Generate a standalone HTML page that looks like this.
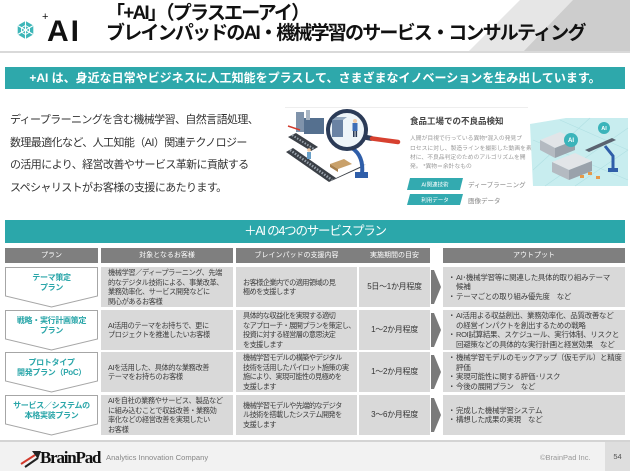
<!DOCTYPE html>
<html><head><meta charset="utf-8">
<style>
*{margin:0;padding:0;box-sizing:border-box}
body{width:630px;height:471px;position:relative;overflow:hidden;background:#fff;font-family:"Liberation Sans","Noto Sans CJK JP",sans-serif;color:#333}
.a{position:absolute}
.t{position:absolute;left:106px;top:4px;font-size:19px;line-height:20px;font-weight:bold;letter-spacing:-1.8px;color:#111;white-space:nowrap}
.bn{position:absolute;left:5px;top:67px;width:620px;height:22px;line-height:22px;text-align:center;color:#fff;font-weight:bold;font-size:12px;white-space:nowrap}
.pg{position:absolute;left:10px;top:109px;font-size:11px;line-height:22.7px;letter-spacing:-0.6px;color:#333;white-space:nowrap}
.bn2{position:absolute;left:5px;top:220px;width:620px;height:23px;line-height:23px;text-align:center;color:#fff;font-size:12.5px;letter-spacing:-1.2px;white-space:nowrap}
.h{position:absolute;top:248px;height:15px;line-height:15px;text-align:center;color:#fff;font-size:7px;white-space:nowrap}
.c{position:absolute;display:flex;flex-direction:column;justify-content:center;font-size:7.2px;line-height:9.5px;letter-spacing:-0.4px;color:#3c3c3c;white-space:nowrap}
.c2{left:101px;width:132px;padding-left:7px}
.c3{left:236px;width:121px;padding-left:7px;letter-spacing:-0.6px}
.c4{left:359px;width:71px;align-items:center;font-size:8px;letter-spacing:-0.3px;color:#333}
.c5{left:443px;width:182px;padding-left:5px;font-size:7.5px;letter-spacing:-0.3px}
.bu{display:inline-block;width:8px;letter-spacing:0}
.p{position:absolute;left:5px;width:93px;text-align:center;color:#2aa6a9;font-weight:bold;font-size:8px;line-height:9.5px;letter-spacing:-0.3px;white-space:nowrap}
</style></head><body>

<svg class="a" style="left:0;top:0" width="630" height="471" viewBox="0 0 630 471">
<!-- header diagonals -->
<polygon points="520,0 630,0 630,52 468,52" fill="#e6e6e6"/>
<polygon points="573,0 630,0 630,52 523,52" fill="#cdcdcd"/>
<rect x="0" y="51" width="630" height="2" fill="#d9d9d9"/>
<!-- logo icon -->
<g transform="translate(25.5,30)">
<polygon points="0,-9 7.8,-4.5 7.8,4.5 0,9 -7.8,4.5 -7.8,-4.5" fill="#3db6b8"/>
<g stroke="#fff" stroke-width="1.1">
<line x1="0" y1="-9" x2="0" y2="9"/>
<line x1="7.8" y1="-4.5" x2="-7.8" y2="4.5"/>
<line x1="7.8" y1="4.5" x2="-7.8" y2="-4.5"/>
</g>
<polygon points="0,-4.5 3.9,-2.25 3.9,2.25 0,4.5 -3.9,2.25 -3.9,-2.25" fill="none" stroke="#fff" stroke-width="1"/>
</g>
<!-- banners -->
<rect x="5" y="67" width="620" height="22" fill="#2ea8ab"/>
<rect x="5" y="220" width="620" height="23" fill="#2ba7aa"/>

<!-- illustration top line -->
<rect x="285" y="107" width="243" height="1" fill="#eeeeee"/>
<!-- left illustration -->
<polygon points="286,152 293,148 336,178 329,182" fill="#3b4047"/>
<line x1="290" y1="150" x2="332" y2="180" stroke="#9aa3ad" stroke-width="2.5" stroke-dasharray="1.5,1.5"/>
<polygon points="329,182 336,178 366,164 360,168" fill="#3b4047"/>
<polygon points="288,137 296,133 318,147 311,151" fill="#3b4047"/>
<line x1="292" y1="135" x2="314" y2="149" stroke="#9aa3ad" stroke-width="2" stroke-dasharray="1.5,1.5"/>
<rect x="296" y="112" width="8" height="20" fill="#7f93ab"/>
<rect x="304" y="118" width="20" height="16" fill="#55708f"/>
<rect x="306" y="110" width="4" height="10" fill="#a9b6c4"/>
<line x1="288" y1="126" x2="300" y2="130" stroke="#d23a2c" stroke-width="1.5"/>
<polygon points="330,164 344,159 352,164 338,169" fill="#c9a16b"/>
<polygon points="330,164 338,169 338,172 330,167" fill="#a77f4c"/>
<circle cx="309" cy="150" r="1.8" fill="#f1c9a3"/>
<rect x="307" y="152" width="4" height="7" fill="#6aa0c8"/>
<path d="M352,148 Q364,156 362,174" fill="none" stroke="#2f5ea9" stroke-width="4"/>
<rect x="355" y="172" width="13" height="6" fill="#2f5ea9"/>
<line x1="364" y1="137" x2="372" y2="138.5" stroke="#2b3b57" stroke-width="5"/>
<line x1="372" y1="138.5" x2="398" y2="142" stroke="#d7402f" stroke-width="4.5" stroke-linecap="round"/>
<circle cx="347" cy="130" r="19" fill="#eef5f9" stroke="#2b3b57" stroke-width="4"/>
<rect x="332" y="120" width="11" height="17" fill="#6a83a4"/>
<polygon points="332,120 343,120 347,117 336,117" fill="#95a9c0"/>
<circle cx="355" cy="121" r="2" fill="#f1c9a3"/>
<rect x="352.5" y="123" width="5" height="8" fill="#3e6eb6"/>
<rect x="353" y="131" width="1.6" height="6" fill="#2b3b57"/>
<rect x="355.5" y="131" width="1.6" height="6" fill="#2b3b57"/>

<!-- middle texts -->
<text x="410" y="124" font-size="8.5" font-weight="bold" fill="#444" font-family="Liberation Sans, Noto Sans CJK JP, sans-serif">食品工場での不良品検知</text>
<g font-size="5.8" fill="#9a9a9a" font-family="Liberation Sans, Noto Sans CJK JP, sans-serif">
<text x="410" y="140">人間が目視で行っている異物*混入の発見プ</text>
<text x="410" y="150">ロセスに対し、製造ラインを撮影した動画を素</text>
<text x="410" y="159">材に、不良品判定のためのアルゴリズムを開</text>
<text x="410" y="168">発。 *異物＝余計なもの</text>
</g>
<polygon points="410,178 463,178 460,190 407,190" fill="#33aab0"/>
<polygon points="410,194 463,194 460,205 407,205" fill="#33aab0"/>
<g font-family="Liberation Sans, Noto Sans CJK JP, sans-serif">
<text x="435" y="186.5" font-size="5.5" fill="#fff" text-anchor="middle">AI関連技術</text>
<text x="435" y="202" font-size="5.5" fill="#fff" text-anchor="middle">利用データ</text>
<text x="468" y="187" font-size="6.5" fill="#888">ディープラーニング</text>
<text x="468" y="203" font-size="6.5" fill="#888">画像データ</text>
</g>

<!-- right illustration -->
<polygon points="530,124 566,118 628,118 628,186 533,186" fill="#c8edef"/>
<g stroke="#b0e0e3" stroke-width="0.6">
<line x1="533" y1="170" x2="590" y2="118"/>
<line x1="545" y1="186" x2="628" y2="128"/>
<line x1="575" y1="186" x2="628" y2="150"/>
<line x1="533" y1="140" x2="628" y2="180"/>
<line x1="560" y1="120" x2="628" y2="150"/>
</g>
<polygon points="540,140 560,132 575,140 555,148" fill="#e2e5e8"/>
<polygon points="540,140 555,148 555,158 540,150" fill="#b4bac1"/>
<polygon points="555,148 575,140 575,150 555,158" fill="#9aa2ab"/>
<polygon points="552,162 575,153 592,161 569,170" fill="#e2e5e8"/>
<polygon points="552,162 569,170 569,180 552,172" fill="#b4bac1"/>
<polygon points="569,170 592,161 592,171 569,180" fill="#9aa2ab"/>
<polygon points="585,150 612,138 616,140 589,152" fill="#5a6370"/>
<path d="M605,146 L613,156 L613,170" stroke="#2f5ea9" stroke-width="3" fill="none"/>
<rect x="608" y="168" width="10" height="4" fill="#2f5ea9"/>
<rect x="580" y="175" width="4" height="3" fill="#e69a4a"/>
<rect x="588" y="172" width="4" height="3" fill="#e69a4a"/>
<rect x="596" y="176" width="4" height="3" fill="#e69a4a"/>
<circle cx="571" cy="140" r="7" fill="#3ab4ba"/>
<circle cx="604" cy="128" r="6" fill="#3ab4ba"/>
<text x="571" y="142.2" font-size="6" fill="#fff" text-anchor="middle" font-weight="bold" font-family="Liberation Sans, sans-serif">AI</text>
<text x="604" y="130.2" font-size="5.5" fill="#fff" text-anchor="middle" font-weight="bold" font-family="Liberation Sans, sans-serif">AI</text>

<!-- table header -->
<g fill="#7f7f7f">
<rect x="5" y="248" width="93" height="15"/>
<rect x="101" y="248" width="132" height="15"/>
<rect x="236" y="248" width="194" height="15"/>
<rect x="443" y="248" width="182" height="15"/>
</g>
<!-- body cells -->
<g fill="#d9d9d9">
<rect x="101" y="267" width="132" height="40"/><rect x="236" y="267" width="121" height="40"/><rect x="359" y="267" width="71" height="40"/><rect x="443" y="267" width="182" height="40"/>
<rect x="101" y="310" width="132" height="40"/><rect x="236" y="310" width="121" height="40"/><rect x="359" y="310" width="71" height="40"/><rect x="443" y="310" width="182" height="40"/>
<rect x="101" y="352" width="132" height="40"/><rect x="236" y="352" width="121" height="40"/><rect x="359" y="352" width="71" height="40"/><rect x="443" y="352" width="182" height="40"/>
<rect x="101" y="395" width="132" height="40"/><rect x="236" y="395" width="121" height="40"/><rect x="359" y="395" width="71" height="40"/><rect x="443" y="395" width="182" height="40"/>
</g>
<!-- chevrons -->
<g fill="#fff" stroke="#a6a6a6" stroke-width="1">
<polygon points="5.5,267.5 97.5,267.5 97.5,296 51.5,307 5.5,296"/>
<polygon points="5.5,310.5 97.5,310.5 97.5,339 51.5,350 5.5,339"/>
<polygon points="5.5,352.5 97.5,352.5 97.5,381 51.5,392 5.5,381"/>
<polygon points="5.5,395.5 97.5,395.5 97.5,424 51.5,435 5.5,424"/>
</g>
<!-- arrows -->
<g fill="#7a7a7a">
<polygon points="431,270 434,270 441,287 434,304 431,304"/>
<polygon points="431,313 434,313 441,330 434,347 431,347"/>
<polygon points="431,355 434,355 441,372 434,389 431,389"/>
<polygon points="431,398 434,398 441,415 434,432 431,432"/>
</g>
<!-- footer -->
<rect x="0" y="440" width="630" height="31" fill="#f2f2f2"/>
<rect x="0" y="440" width="630" height="2" fill="#d4d4d4"/>
<rect x="605" y="442" width="25" height="29" fill="#dedede"/>
<!-- BrainPad mark -->
<line x1="21" y1="464" x2="35" y2="455" stroke="#d33a2c" stroke-width="2"/>
<line x1="25" y1="467" x2="38" y2="458" stroke="#222" stroke-width="2"/>
<polygon points="32,451 41,451 38,459" fill="#222"/>
</svg>

<!-- header logo and title -->
<div class="a" style="left:42px;top:11px;font-size:11px;color:#111">+</div>
<div class="a" style="left:47px;top:17px;font:bold 30px/1 'Liberation Sans',sans-serif;letter-spacing:2px;color:#111">AI</div>
<div class="t">「+AI」（プラスエーアイ）<br>ブレインパッドのAI・機械学習のサービス・コンサルティング</div>

<div class="bn">+AI は、身近な日常やビジネスに人工知能をプラスして、さまざまなイノベーションを生み出しています。</div>

<div class="pg">ディープラーニングを含む機械学習、自然言語処理、<br>数理最適化など、人工知能（AI）関連テクノロジー<br>の活用により、経営改善やサービス革新に貢献する<br>スペシャリストがお客様の支援にあたります。</div>

<div class="bn2">＋AI の4つのサービスプラン</div>

<div class="h" style="left:5px;width:93px">プラン</div>
<div class="h" style="left:101px;width:132px">対象となるお客様</div>
<div class="h" style="left:236px;width:121px">ブレインパッドの支援内容</div>
<div class="h" style="left:359px;width:71px">実施期間の目安</div>
<div class="h" style="left:443px;width:182px">アウトプット</div>

<div class="p" style="top:273px">テーマ策定<br>プラン</div>
<div class="p" style="top:316px">戦略・実行計画策定<br>プラン</div>
<div class="p" style="top:358px">プロトタイプ<br>開発プラン（PoC）</div>
<div class="p" style="top:401px">サービス／システムの<br>本格実装プラン</div>

<div class="c c2" style="top:267px;height:40px"><div>機械学習／ディープラーニング、先端</div><div>的なデジタル技術による、事業改革、</div><div>業務効率化、サービス開発などに</div><div>関心があるお客様</div></div>
<div class="c c2" style="top:310px;height:40px"><div>AI活用のテーマをお持ちで、更に</div><div>プロジェクトを推進したいお客様</div></div>
<div class="c c2" style="top:352px;height:40px"><div>AIを活用した、具体的な業務改善</div><div>テーマをお持ちのお客様</div></div>
<div class="c c2" style="top:395px;height:40px"><div>AIを自社の業務やサービス、製品など</div><div>に組み込むことで収益改善・業務効</div><div>率化などの経営改善を実現したい</div><div>お客様</div></div>

<div class="c c3" style="top:267px;height:40px"><div>お客様企業内での適用領域の見</div><div>極めを支援します</div></div>
<div class="c c3" style="top:310px;height:40px"><div>具体的な収益化を実現する適切</div><div>なアプローチ・展開プランを策定し、</div><div>投資に対する経営層の意思決定</div><div>を支援します</div></div>
<div class="c c3" style="top:352px;height:40px"><div>機械学習モデルの構築やデジタル</div><div>技術を活用したパイロット施策の実</div><div>施により、実現可能性の見極めを</div><div>支援します</div></div>
<div class="c c3" style="top:395px;height:40px"><div>機械学習モデルや先端的なデジタ</div><div>ル技術を搭載したシステム開発を</div><div>支援します</div></div>

<div class="c c4" style="top:267px;height:40px">5日～1か月程度</div>
<div class="c c4" style="top:310px;height:40px">1～2か月程度</div>
<div class="c c4" style="top:352px;height:40px">1～2か月程度</div>
<div class="c c4" style="top:395px;height:40px">3～6か月程度</div>

<div class="c c5" style="top:267px;height:40px"><div><span class="bu">・</span>AI･機械学習等に関連した具体的取り組みテーマ</div><div><span class="bu"></span>候補</div><div><span class="bu">・</span>テーマごとの取り組み優先度　など</div></div>
<div class="c c5" style="top:310px;height:40px"><div><span class="bu">・</span>AI活用よる収益創出、業務効率化、品質改善など</div><div><span class="bu"></span>の経営インパクトを創出するための戦略</div><div><span class="bu">・</span>ROI試算結果、スケジュール、実行体制、リスクと</div><div><span class="bu"></span>回避策などの具体的な実行計画と経営効果　など</div></div>
<div class="c c5" style="top:352px;height:40px"><div><span class="bu">・</span>機械学習モデルのモックアップ（仮モデル）と精度</div><div><span class="bu"></span>評価</div><div><span class="bu">・</span>実現可能性に関する評価･リスク</div><div><span class="bu">・</span>今後の展開プラン　など</div></div>
<div class="c c5" style="top:395px;height:40px"><div><span class="bu">・</span>完成した機械学習システム</div><div><span class="bu">・</span>構想した成果の実現　など</div></div>

<!-- footer texts -->
<div class="a" style="left:40px;top:448px;font:bold 17px/20px 'Liberation Serif',serif;letter-spacing:-1.2px;color:#111">BrainPad</div>
<div class="a" style="left:106px;top:453px;font-size:7.6px;line-height:10px;color:#888;white-space:nowrap">Analytics Innovation Company</div>
<div class="a" style="left:540px;top:453px;font-size:7.5px;line-height:10px;color:#999;white-space:nowrap">©BrainPad Inc.</div>
<div class="a" style="left:605px;top:442px;width:25px;height:29px;line-height:29px;text-align:center;font-size:7.5px;color:#555">54</div>
</body></html>
